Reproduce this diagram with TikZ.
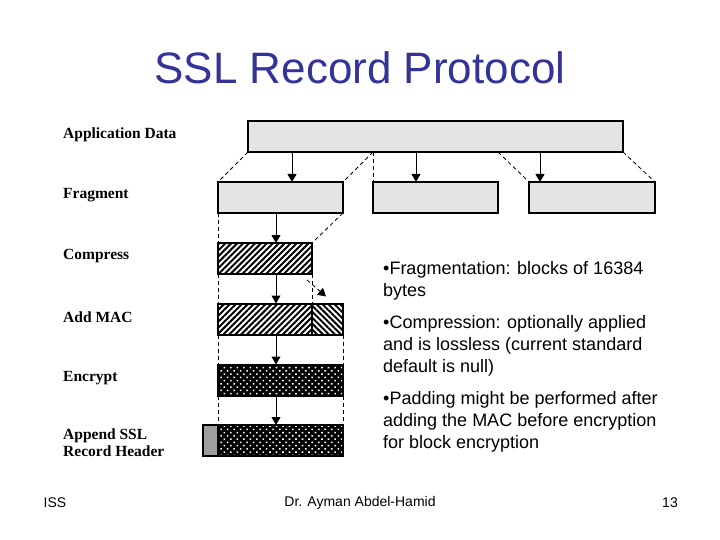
\documentclass[tikz,border=0pt]{standalone}
\usepackage{fontspec}
\setmainfont{Liberation Sans}
\newfontfamily\stepfont{Liberation Serif}
\usetikzlibrary{arrows.meta,patterns.meta}
\definecolor{titleblue}{RGB}{51,51,153}
\definecolor{boxgray}{RGB}{228,228,228}
\definecolor{hdrgray}{RGB}{158,158,158}
\tikzset{
  blk/.style={draw, line width=2pt, minimum height=31pt, inner sep=0pt, outer sep=0pt},
  plainblk/.style={blk, fill=boxgray},
  neblk/.style={blk, fill=white,
    postaction={pattern={Lines[angle=45,distance=4.2pt,line width=2pt]}},
    postaction={draw, line width=2pt}},
  nwblk/.style={blk, fill=white,
    postaction={pattern={Lines[angle=-45,distance=4.2pt,line width=2pt]}},
    postaction={draw, line width=2pt}},
  encblk/.style={blk, fill=black,
    postaction={pattern={Dots[angle=45,distance=4.6pt,radius=1.1pt]}, pattern color=white},
    postaction={draw, line width=2pt}},
  hdrblk/.style={blk, fill=hdrgray},
  steplabel/.style={anchor=west, inner sep=0pt, align=left, font=\stepfont\bfseries\fontsize{15.5}{17}\selectfont},
  note/.style={anchor=north west, inner sep=0pt, align=left, font=\fontsize{18}{21.7}\selectfont},
  arr/.style={line width=1pt, -{Triangle[width=9pt,length=8pt]}},
  guide/.style={line width=0.8pt, dash pattern=on 4pt off 3pt},
}
\begin{document}
\begin{tikzpicture}[x=1pt,y=-1pt]
\useasboundingbox (0,0) rectangle (720,540);
% title
\node (title) at (360,68) {\color{titleblue}\fontsize{44}{48}\selectfont SSL Record Protocol};
% step names
\node[steplabel] (lapp) at (63,135) {Application Data};
\node[steplabel] (lfrag) at (63,195) {Fragment};
\node[steplabel] (lcomp) at (63,256) {Compress};
\node[steplabel] (lmac) at (63,317) {Add MAC};
\node[steplabel] (lenc) at (63,378) {Encrypt};
\node[steplabel] (lhdr) at (63,443) {Append SSL\\Record Header};
% blocks
\node[plainblk, minimum width=375pt] (app) at (435.5,136.5) {};
\node[plainblk, minimum width=125pt] (frag1) at (280.5,197.5) {};
\node[plainblk, minimum width=125pt] (frag2) at (435.5,197.5) {};
\node[plainblk, minimum width=126pt] (frag3) at (592,197.5) {};
\node[neblk, minimum width=94pt] (comp) at (265,258.5) {};
\node[neblk, minimum width=94pt] (macd) at (265,319) {};
\node[nwblk, minimum width=31pt] (mac) at (327.5,319) {};
\node[encblk, minimum width=125pt] (enc) at (280.5,380) {};
\node[hdrblk, minimum width=15pt] (hdr) at (210.5,440.5) {};
\node[encblk, minimum width=125pt] (rec) at (280.5,440.5) {};
\coordinate (spine) at (276,0);
% fragmenting
\draw[guide] (app.south west) -- (frag1.north west);
\draw[guide] (app.south -| frag2.north west) -- (frag1.north east);
\draw[guide] (app.south -| frag2.north west) -- (frag2.north west);
\draw[guide] (app.south -| frag2.north east) -- (frag3.north west);
\draw[guide] (app.south east) -- (frag3.north east);
\draw[arr] ([xshift=11.5pt,yshift=-1pt]frag1.north |- app.south) -- ([xshift=11.5pt]frag1.north);
\draw[arr] ([xshift=-19.5pt,yshift=-1pt]frag2.north |- app.south) -- ([xshift=-19.5pt]frag2.north);
\draw[arr] ([xshift=-52pt,yshift=-1pt]frag3.north |- app.south) -- ([xshift=-52pt]frag3.north);
% down the first fragment
\draw[guide] (frag1.south west) -- (comp.north west);
\draw[guide] (frag1.south east) -- (comp.north east);
\draw[guide] (comp.south west) -- (macd.north west);
\draw[guide] (comp.south east) -- (macd.north east);
\draw[guide, -{Triangle[width=9pt,length=8pt]}] ([shift={(-5,6)}]comp.south east) -- ([shift={(-17,-7)}]mac.north east);
\draw[guide] (macd.south west) -- (enc.north west);
\draw[guide] (mac.south east) -- (enc.north east);
\draw[guide] (enc.south west) -- (rec.north west);
\draw[guide] (enc.south east) -- (rec.north east);
\draw[arr] ([yshift=-1pt]frag1.south -| spine) -- (comp.north -| spine);
\draw[arr] ([yshift=-1pt]comp.south -| spine) -- (macd.north -| spine);
\draw[arr] ([yshift=-1pt]macd.south -| spine) -- (enc.north -| spine);
\draw[arr] ([yshift=-1pt]enc.south -| spine) -- (rec.north -| spine);
% notes
\node[note] (n1) at (383,261.5) {\textbullet Fragmentation: blocks of 16384\\bytes};
\node[note] (n2) at (383,315.5) {\textbullet Compression: optionally applied\\and is lossless (current standard\\default is null)};
\node[note] (n3) at (383,391.5) {\textbullet Padding might be performed after\\adding the MAC before encryption\\for block encryption};
% footer
\node[font=\fontsize{14}{16}\selectfont] (ftl) at (55,503) {ISS};
\node[font=\fontsize{14}{16}\selectfont] (ftc) at (360,503) {Dr. Ayman Abdel-Hamid};
\node[font=\fontsize{14}{16}\selectfont] (ftr) at (670,503) {13};
\end{tikzpicture}
\end{document}
